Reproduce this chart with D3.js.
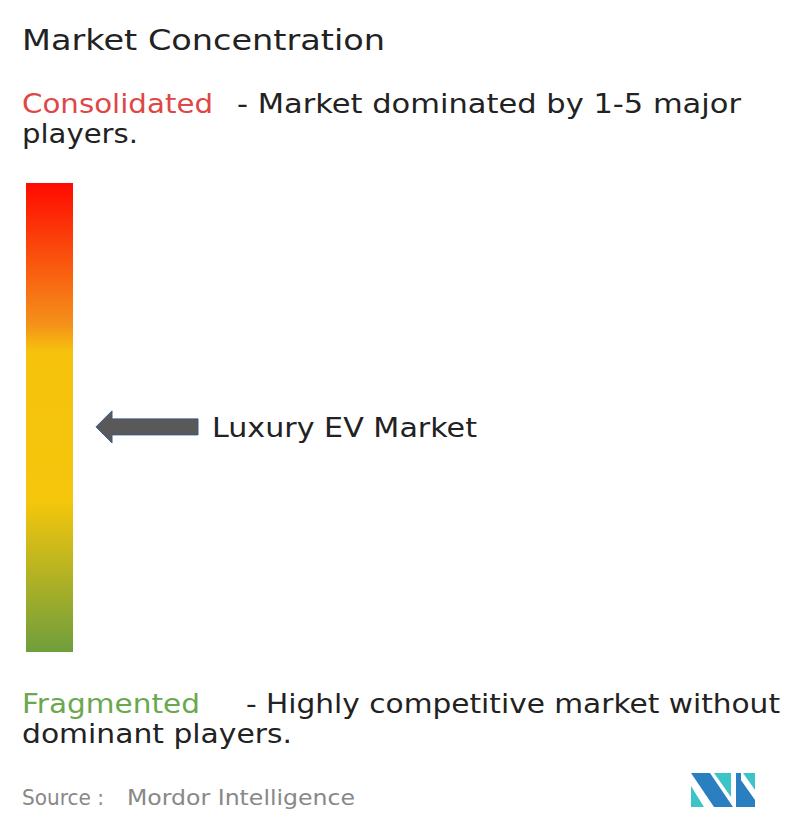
<!DOCTYPE html><html><head><meta charset="utf-8"><script src="https://cdn.jsdelivr.net/npm/d3@7"></script>
<style>body{margin:0;background:#fff}text{font-family:"DejaVu Sans",sans-serif}</style></head><body><script>
const title="Market Concentration";
const topLabel=["Consolidated","- Market dominated by 1-5 major","players."];
const bottomLabel=["Fragmented","- Highly competitive market without","dominant players."];
const marketName="Luxury EV Market";
const marketPosition=[0.52]; // 0=top(consolidated),1=bottom
const gradStops=[[0,"#ff0a00"],[0.3,"#f5901a"],[0.36,"#f6c20c"],[0.68,"#f4c60c"],[1,"#6f9e3c"]];
const svg=d3.select("body").append("svg").attr("width",796).attr("height",834);
const g=svg.append("defs").append("linearGradient").attr("id","gr").attr("x1",0).attr("x2",0).attr("y1",0).attr("y2",1);
g.selectAll("stop").data(gradStops).join("stop").attr("offset",d=>d[0]).attr("stop-color",d=>d[1]);
const y=d3.scaleLinear().domain([0,1]).range([183,652]);
svg.append("rect").attr("x",26).attr("y",y(0)).attr("width",47).attr("height",y(1)-y(0)).attr("fill","url(#gr)");
function txt(x,yy,s,fs,c,w){const t=svg.append("text").attr("x",x).attr("y",yy).attr("font-size",fs).attr("fill",c).text(s);if(w)t.attr("textLength",w).attr("lengthAdjust","spacingAndGlyphs");return t;}
txt(22,50,title,29,"#222",363);
txt(22,113,topLabel[0],26,"#e04646",191);
txt(237,113,topLabel[1],26,"#222",504);
txt(22,143,topLabel[2],26,"#222",116);
txt(22,713,bottomLabel[0],26,"#6aa84f",178);
txt(246,713,bottomLabel[1],26,"#222",534);
txt(22,743,bottomLabel[2],26,"#222",270);
marketPosition.forEach(p=>{const cy=y(p);
svg.append("path").attr("d",`M96,${cy} L112,${cy-16} L112,${cy-8} L198,${cy-8} L198,${cy+8} L112,${cy+8} L112,${cy+16} Z`).attr("fill","#595959").attr("stroke","#3a5a8a").attr("stroke-width",1);
txt(212,cy+10,marketName,26,"#222",265);});
txt(22,805,"Source :",22,"#888",82);
txt(127,805,"Mordor Intelligence",22,"#888",228);
const L=svg.append("g");
L.append("path").attr("d","M691,773 L710,773 L733,807 L714,807 Z").attr("fill","#2a7fc0");
L.append("path").attr("d","M691,786 L704,807 L691,807 Z").attr("fill","#3cc4c8");
L.append("path").attr("d","M714,773 L731,773 L731,797 Z").attr("fill","#3cc4c8");
L.append("path").attr("d","M736,773 L741,773 L741,807 L736,807 Z").attr("fill","#2a7fc0");
L.append("path").attr("d","M736,773 L755,800 L755,807 L741,807 L736,800 Z").attr("fill","#2a7fc0");
L.append("path").attr("d","M743,773 L755,773 L755,790 Z").attr("fill","#3cc4c8");
</script></body></html>
